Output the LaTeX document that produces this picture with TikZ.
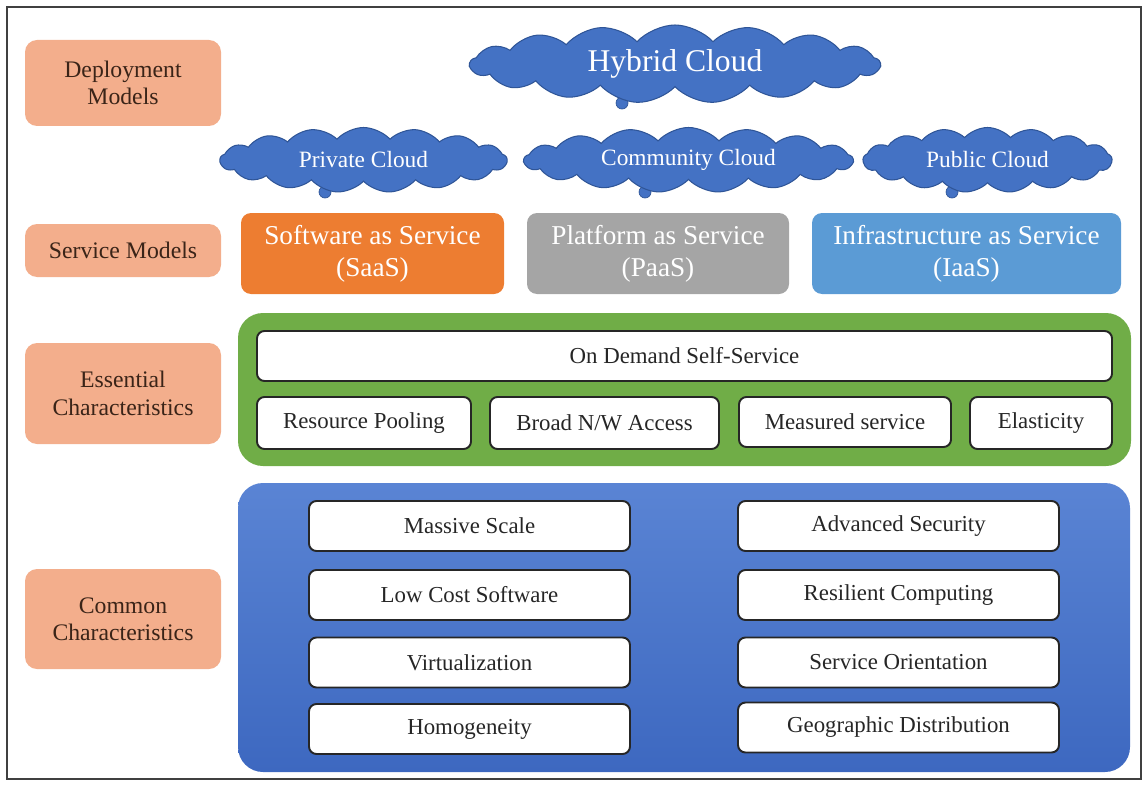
\documentclass[tikz,border=0pt]{standalone}
\usepackage{fontspec}
\setmainfont{Liberation Serif}
\usetikzlibrary{shapes.symbols}

\definecolor{salmon}{HTML}{F3AE8C}
\definecolor{labeltext}{HTML}{3A2418}
\definecolor{cloudblue}{HTML}{4472C4}
\definecolor{cloudline}{HTML}{2F5597}
\definecolor{saasorange}{HTML}{ED7D31}
\definecolor{paasgray}{HTML}{A5A5A5}
\definecolor{iaasblue}{HTML}{5B9BD5}
\definecolor{essgreen}{HTML}{70AD47}
\definecolor{comtop}{HTML}{5A84D4}
\definecolor{combottom}{HTML}{3D68C0}

\begin{document}
\begin{tikzpicture}[
    layerlabel/.style={rectangle, rounded corners=0.24cm, fill=salmon, text=labeltext,
        minimum width=3.92cm, align=center, font=\fontsize{13.5}{15.5}\selectfont},
    cloudnode/.style={cloud, cloud puffs=17, cloud puff arc=95, cloud ignores aspect,
        fill=cloudblue, draw=cloudline, line width=0.6pt, inner sep=0pt, text=white,
        font=\fontsize{13.3}{15}\selectfont},
    servicebox/.style={rectangle, rounded corners=0.2cm, minimum height=1.62cm, text=white,
        align=center, font=\fontsize{15.5}{18}\selectfont},
    featurebox/.style={rectangle, rounded corners=0.15cm, draw=black!85, line width=1.1pt,
        fill=white, minimum height=1.0cm, text=black!85, font=\fontsize{13}{15}\selectfont},
    commonbox/.style={featurebox, minimum width=6.42cm}
]
    \useasboundingbox (0,0) rectangle (22.9,-15.68);
    \draw[black!75, line width=1.6pt] (0.14,-0.14) rectangle (22.82,-15.58);

    % layer labels
    \node[layerlabel, minimum height=1.72cm] (deployment) at (2.46,-1.66) {Deployment\\Models};
    \node[layerlabel, minimum height=1.06cm] (servicemodels) at (2.46,-5.01) {Service Models};
    \node[layerlabel, minimum height=2.02cm] (essential) at (2.46,-7.87) {Essential\\Characteristics};
    \node[layerlabel, minimum height=2.0cm] (common) at (2.46,-12.38) {Common\\Characteristics};

    % deployment models
    \fill[cloudblue, draw=cloudline] (12.44,-2.06) circle (0.12);
    \node[cloudnode, minimum width=8.2cm, minimum height=1.56cm,
        font=\fontsize{18}{20}\selectfont] (hybrid) at (13.5,-1.28) {Hybrid Cloud};
    \fill[cloudblue, draw=cloudline] (6.5,-3.84) circle (0.12);
    \fill[cloudblue, draw=cloudline] (12.9,-3.84) circle (0.12);
    \fill[cloudblue, draw=cloudline] (19.04,-3.84) circle (0.12);
    \node[cloudnode, minimum width=5.74cm, minimum height=1.3cm] (private) at (7.27,-3.2) {Private Cloud};
    \node[cloudnode, minimum width=6.58cm, minimum height=1.3cm] (community) at (13.77,-3.2) {Community Cloud};
    \node[cloudnode, minimum width=4.98cm, minimum height=1.3cm] (public) at (19.75,-3.2) {Public Cloud};

    % service models
    \node[servicebox, fill=saasorange, minimum width=5.26cm] (saas) at (7.45,-5.07) {Software as Service\\(SaaS)};
    \node[servicebox, fill=paasgray, minimum width=5.24cm] (paas) at (13.16,-5.07) {Platform as Service\\(PaaS)};
    \node[servicebox, fill=iaasblue, minimum width=6.18cm] (iaas) at (19.33,-5.07) {Infrastructure as Service\\(IaaS)};

    % essential characteristics
    \node[rectangle, rounded corners=0.5cm, fill=essgreen, minimum width=17.86cm,
        minimum height=3.06cm] (essbox) at (13.69,-7.79) {};
    \node[featurebox, minimum width=17.1cm] (ondemand) at (13.69,-7.12) {On Demand Self-Service};
    \node[featurebox, minimum width=4.28cm, minimum height=1.04cm] (pooling) at (7.28,-8.46) {Resource Pooling};
    \node[featurebox, minimum width=4.58cm, minimum height=1.04cm] (broad) at (12.09,-8.46) {Broad N/W Access};
    \node[featurebox, minimum width=4.24cm] (measured) at (16.9,-8.44) {Measured service};
    \node[featurebox, minimum width=2.84cm, minimum height=1.04cm] (elasticity) at (20.82,-8.46) {Elasticity};

    % common characteristics
    \node[rectangle, rounded corners=0.5cm, top color=comtop, bottom color=combottom,
        minimum width=17.84cm, minimum height=5.78cm] (combox) at (13.68,-12.55) {};
    \node[commonbox] (scale) at (9.39,-10.52) {Massive Scale};
    \node[commonbox] (lowcost) at (9.39,-11.9) {Low Cost Software};
    \node[commonbox] (virtual) at (9.39,-13.25) {Virtualization};
    \node[commonbox] (homog) at (9.39,-14.58) {Homogeneity};
    \node[commonbox] (security) at (17.97,-10.52) {Advanced Security};
    \node[commonbox] (resilient) at (17.97,-11.9) {Resilient Computing};
    \node[commonbox] (orientation) at (17.97,-13.25) {Service Orientation};
    \node[commonbox] (geo) at (17.97,-14.55) {Geographic Distribution};
\end{tikzpicture}
\end{document}
